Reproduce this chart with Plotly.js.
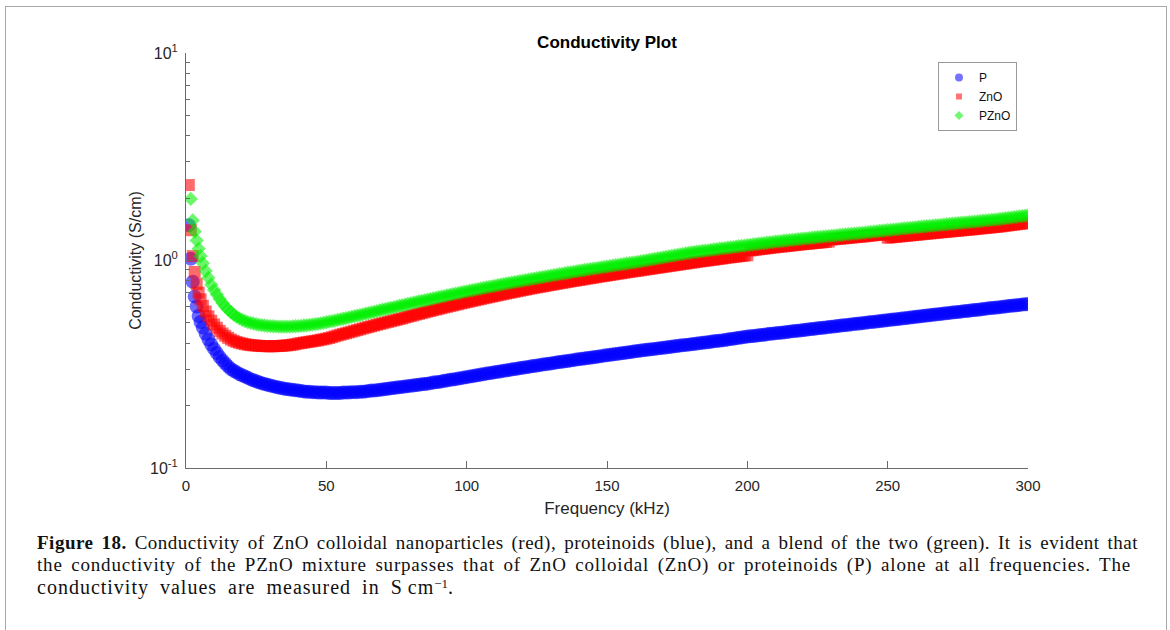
<!DOCTYPE html>
<html>
<head>
<meta charset="utf-8">
<script src="https://cdn.plot.ly/plotly-3.0.1.min.js"></script>
<style>
  html, body { margin: 0; padding: 0; background: #fff; }
  #wrap { position: relative; width: 1170px; height: 630px; overflow: hidden; }
  #frame { position: absolute; left: 5px; top: 6px; width: 1160px; height: 700px;
           border: 1px solid #a8a8a8; border-bottom: none; pointer-events: none; }
  #chart { position: absolute; left: 0; top: 0; width: 1170px; height: 630px; }
  #caption { position: absolute; left: 37px; top: 532px; width: 1125px;
             font-family: "Liberation Serif", "DejaVu Serif", serif; font-size: 19px;
             line-height: 22px; color: #111; white-space: nowrap; }
  #caption .l1 { letter-spacing: 0.5px; word-spacing: 2.7px; }
  #caption .l2 { letter-spacing: 0.8px; word-spacing: 3.1px; }
  #caption .l3 { font-size: 20px; letter-spacing: 1px; word-spacing: 5px; }
  #caption sup { font-size: 13px; line-height: 0; vertical-align: 0.45em; letter-spacing: 0; }
</style>
</head>
<body>
<div id="wrap">
  <div id="chart"></div>
  <div id="frame"></div>
  <div id="caption"><span class="l1"><b>Figure 18.</b> Conductivity of ZnO colloidal nanoparticles (red), proteinoids (blue), and a blend of the two (green). It is evident that</span><br><span class="l2">the conductivity of the PZnO mixture surpasses that of ZnO colloidal (ZnO) or proteinoids (P) alone at all frequencies. The</span><br><span class="l3">conductivity values are measured in S&#8201;cm<sup>&minus;1</sup>.</span></div>
</div>
<script>
// Frequency sweep (kHz)
const freq = [
  1, 1.7, 2.4, 3.1, 3.8, 4.5, 5.2,
  6, 7, 8, 9, 10, 11, 12, 13, 14, 15,
  16, 17, 18, 19, 20, 21, 22, 23, 24, 25,
  26, 27, 28, 29, 30, 31, 32, 33, 34, 35,
  36, 37, 38, 39, 40, 41, 42, 43, 44, 45,
  46, 47, 48, 49, 50, 51, 52, 53, 54, 55,
  56, 57, 58, 59, 60, 61, 62, 63, 64, 65,
  66, 67, 68, 69, 70, 71, 72, 73, 74, 75,
  76, 77, 78, 79, 80, 81, 82, 83, 84, 85,
  86, 87, 88, 89, 90, 91, 92, 93, 94, 95,
  96, 97, 98, 99, 100, 101, 102, 103, 104, 105,
  106, 107, 108, 109, 110, 111, 112, 113, 114, 115,
  116, 117, 118, 119, 120, 121, 122, 123, 124, 125,
  126, 127, 128, 129, 130, 131, 132, 133, 134, 135,
  136, 137, 138, 139, 140, 141, 142, 143, 144, 145,
  146, 147, 148, 149, 150, 151, 152, 153, 154, 155,
  156, 157, 158, 159, 160, 161, 162, 163, 164, 165,
  166, 167, 168, 169, 170, 171, 172, 173, 174, 175,
  176, 177, 178, 179, 180, 181, 182, 183, 184, 185,
  186, 187, 188, 189, 190, 191, 192, 193, 194, 195,
  196, 197, 198, 199, 200, 201, 202, 203, 204, 205,
  206, 207, 208, 209, 210, 211, 212, 213, 214, 215,
  216, 217, 218, 219, 220, 221, 222, 223, 224, 225,
  226, 227, 228, 229, 230, 231, 232, 233, 234, 235,
  236, 237, 238, 239, 240, 241, 242, 243, 244, 245,
  246, 247, 248, 249, 250, 251, 252, 253, 254, 255,
  256, 257, 258, 259, 260, 261, 262, 263, 264, 265,
  266, 267, 268, 269, 270, 271, 272, 273, 274, 275,
  276, 277, 278, 279, 280, 281, 282, 283, 284, 285,
  286, 287, 288, 289, 290, 291, 292, 293, 294, 295,
  296, 297, 298, 299, 300
];

// Conductivity (S/cm) of proteinoids
const condP = [
  1.48, 1.02, 0.79, 0.67, 0.60, 0.54, 0.505,
  0.475, 0.443, 0.416, 0.394, 0.375, 0.358, 0.343, 0.330, 0.319, 0.309,
  0.300, 0.294, 0.289, 0.284, 0.280, 0.276, 0.272, 0.268, 0.265, 0.262,
  0.259, 0.256, 0.254, 0.252, 0.250, 0.248, 0.246, 0.244, 0.243, 0.241,
  0.240, 0.239, 0.238, 0.237, 0.236, 0.235, 0.234, 0.233, 0.233, 0.232,
  0.232, 0.231, 0.231, 0.231, 0.231, 0.230, 0.230, 0.230, 0.230, 0.230,
  0.231, 0.231, 0.231, 0.232, 0.232, 0.232, 0.233, 0.233, 0.234, 0.235,
  0.236, 0.236, 0.237, 0.238, 0.239, 0.240, 0.241, 0.242, 0.243, 0.244,
  0.245, 0.246, 0.247, 0.248, 0.249, 0.250, 0.251, 0.252, 0.253, 0.254,
  0.255, 0.256, 0.258, 0.259, 0.260, 0.261, 0.263, 0.264, 0.266, 0.267,
  0.268, 0.270, 0.271, 0.273, 0.274, 0.276, 0.277, 0.279, 0.280, 0.282,
  0.283, 0.285, 0.286, 0.288, 0.289, 0.291, 0.292, 0.294, 0.295, 0.297,
  0.298, 0.300, 0.301, 0.303, 0.304, 0.306, 0.307, 0.309, 0.310, 0.312,
  0.313, 0.315, 0.316, 0.318, 0.319, 0.321, 0.322, 0.324, 0.325, 0.327,
  0.328, 0.330, 0.331, 0.333, 0.334, 0.336, 0.337, 0.339, 0.340, 0.342,
  0.343, 0.345, 0.346, 0.348, 0.349, 0.351, 0.352, 0.354, 0.355, 0.357,
  0.358, 0.360, 0.361, 0.363, 0.365, 0.366, 0.368, 0.369, 0.371, 0.372,
  0.374, 0.375, 0.377, 0.378, 0.380, 0.381, 0.383, 0.384, 0.386, 0.387,
  0.389, 0.390, 0.392, 0.393, 0.395, 0.396, 0.398, 0.399, 0.401, 0.402,
  0.404, 0.406, 0.408, 0.409, 0.411, 0.412, 0.414, 0.416, 0.418, 0.420,
  0.422, 0.424, 0.426, 0.428, 0.430, 0.431, 0.433, 0.434, 0.436, 0.437,
  0.439, 0.441, 0.443, 0.444, 0.446, 0.447, 0.449, 0.450, 0.452, 0.454,
  0.456, 0.457, 0.459, 0.460, 0.462, 0.464, 0.466, 0.467, 0.469, 0.471,
  0.473, 0.474, 0.476, 0.478, 0.480, 0.481, 0.483, 0.485, 0.487, 0.488,
  0.490, 0.492, 0.494, 0.495, 0.497, 0.499, 0.501, 0.503, 0.505, 0.506,
  0.508, 0.510, 0.512, 0.514, 0.516, 0.518, 0.520, 0.521, 0.523, 0.525,
  0.527, 0.529, 0.531, 0.533, 0.535, 0.537, 0.539, 0.541, 0.543, 0.545,
  0.547, 0.549, 0.551, 0.553, 0.555, 0.557, 0.559, 0.561, 0.563, 0.565,
  0.567, 0.569, 0.571, 0.573, 0.575, 0.577, 0.579, 0.581, 0.583, 0.586,
  0.588, 0.590, 0.592, 0.594, 0.596, 0.598, 0.600, 0.603, 0.605, 0.607,
  0.609, 0.611, 0.613, 0.615, 0.617
];

// Conductivity (S/cm) of ZnO colloid
const condZnO = [
  2.31, 1.40, 1.05, 0.88, 0.77, 0.70, 0.65,
  0.605, 0.568, 0.538, 0.513, 0.492, 0.474, 0.458, 0.445, 0.434, 0.424,
  0.416, 0.410, 0.405, 0.401, 0.398, 0.395, 0.393, 0.391, 0.390, 0.389,
  0.388, 0.387, 0.387, 0.386, 0.386, 0.386, 0.387, 0.387, 0.388, 0.389,
  0.390, 0.391, 0.393, 0.395, 0.398, 0.400, 0.402, 0.404, 0.406, 0.408,
  0.410, 0.412, 0.415, 0.417, 0.420, 0.423, 0.427, 0.431, 0.435, 0.439,
  0.443, 0.446, 0.450, 0.454, 0.458, 0.462, 0.466, 0.470, 0.474, 0.478,
  0.482, 0.486, 0.490, 0.494, 0.498, 0.502, 0.506, 0.510, 0.514, 0.518,
  0.522, 0.526, 0.531, 0.535, 0.540, 0.544, 0.549, 0.553, 0.558, 0.562,
  0.567, 0.571, 0.576, 0.580, 0.585, 0.589, 0.594, 0.598, 0.603, 0.607,
  0.612, 0.616, 0.621, 0.625, 0.630, 0.634, 0.639, 0.643, 0.648, 0.652,
  0.657, 0.661, 0.666, 0.670, 0.675, 0.679, 0.684, 0.688, 0.693, 0.697,
  0.702, 0.706, 0.711, 0.715, 0.720, 0.724, 0.729, 0.733, 0.738, 0.742,
  0.746, 0.750, 0.754, 0.759, 0.763, 0.767, 0.771, 0.776, 0.780, 0.784,
  0.788, 0.793, 0.797, 0.801, 0.805, 0.809, 0.813, 0.818, 0.822, 0.826,
  0.830, 0.835, 0.839, 0.843, 0.847, 0.851, 0.855, 0.860, 0.864, 0.868,
  0.872, 0.877, 0.881, 0.885, 0.889, 0.893, 0.897, 0.902, 0.906, 0.910,
  0.914, 0.919, 0.923, 0.927, 0.931, 0.936, 0.940, 0.945, 0.949, 0.953,
  0.957, 0.962, 0.966, 0.971, 0.975, 0.980, 0.984, 0.989, 0.993, 0.997,
  1.001, 1.006, 1.010, 1.014, 1.018, 1.023, 1.027, 1.032, 1.036, 1.040,
  1.044, 1.048, 1.052, 1.056, 1.060, 1.117, 1.122, 1.127, 1.132, 1.136,
  1.140, 1.145, 1.150, 1.154, 1.158, 1.163, 1.167, 1.170, 1.174, 1.179,
  1.183, 1.186, 1.190, 1.195, 1.199, 1.202, 1.206, 1.210, 1.214, 1.217,
  1.221, 1.225, 1.229, 1.233, 1.262, 1.266, 1.270, 1.274, 1.278, 1.281,
  1.285, 1.289, 1.293, 1.297, 1.301, 1.305, 1.309, 1.313, 1.318, 1.322,
  1.327, 1.331, 1.335, 1.339, 1.288, 1.292, 1.296, 1.300, 1.305, 1.309,
  1.313, 1.317, 1.321, 1.325, 1.329, 1.333, 1.338, 1.342, 1.346, 1.350,
  1.354, 1.358, 1.363, 1.367, 1.371, 1.375, 1.379, 1.383, 1.387, 1.391,
  1.396, 1.400, 1.404, 1.408, 1.412, 1.416, 1.421, 1.426, 1.431, 1.435,
  1.440, 1.444, 1.449, 1.453, 1.458, 1.464, 1.470, 1.476, 1.482, 1.488,
  1.494, 1.500, 1.506, 1.512, 1.518
];

// Conductivity (S/cm) of the proteinoid–ZnO blend
const condPZnO = [
  null, 1.98, 1.56, 1.38, 1.25, 1.14, 1.05,
  0.97, 0.89, 0.825, 0.765, 0.72, 0.685, 0.652, 0.624, 0.600, 0.580,
  0.563, 0.549, 0.536, 0.526, 0.518, 0.511, 0.505, 0.501, 0.497, 0.493,
  0.490, 0.488, 0.486, 0.484, 0.483, 0.482, 0.481, 0.480, 0.480, 0.480,
  0.480, 0.480, 0.481, 0.482, 0.483, 0.484, 0.486, 0.487, 0.489, 0.491,
  0.493, 0.495, 0.498, 0.501, 0.504, 0.507, 0.510, 0.513, 0.517, 0.520,
  0.524, 0.527, 0.531, 0.535, 0.539, 0.542, 0.546, 0.550, 0.554, 0.558,
  0.562, 0.566, 0.570, 0.575, 0.579, 0.583, 0.587, 0.591, 0.595, 0.600,
  0.604, 0.608, 0.612, 0.617, 0.621, 0.626, 0.630, 0.635, 0.639, 0.643,
  0.647, 0.652, 0.656, 0.661, 0.665, 0.670, 0.674, 0.679, 0.683, 0.688,
  0.692, 0.697, 0.701, 0.706, 0.710, 0.715, 0.719, 0.724, 0.728, 0.733,
  0.737, 0.742, 0.746, 0.751, 0.755, 0.760, 0.764, 0.769, 0.773, 0.778,
  0.782, 0.787, 0.791, 0.796, 0.800, 0.805, 0.809, 0.814, 0.818, 0.823,
  0.827, 0.832, 0.836, 0.841, 0.845, 0.850, 0.854, 0.859, 0.863, 0.868,
  0.873, 0.877, 0.882, 0.886, 0.891, 0.895, 0.900, 0.904, 0.909, 0.913,
  0.917, 0.922, 0.926, 0.931, 0.935, 0.940, 0.944, 0.949, 0.953, 0.958,
  0.962, 0.967, 0.971, 0.976, 0.980, 0.985, 0.991, 0.996, 1.002, 1.007,
  1.013, 1.018, 1.024, 1.029, 1.035, 1.041, 1.047, 1.052, 1.058, 1.064,
  1.070, 1.075, 1.081, 1.087, 1.093, 1.097, 1.102, 1.106, 1.111, 1.115,
  1.120, 1.125, 1.130, 1.134, 1.139, 1.143, 1.148, 1.152, 1.157, 1.161,
  1.166, 1.171, 1.176, 1.180, 1.185, 1.189, 1.194, 1.199, 1.204, 1.208,
  1.213, 1.218, 1.223, 1.227, 1.232, 1.236, 1.241, 1.245, 1.249, 1.253,
  1.258, 1.262, 1.266, 1.270, 1.275, 1.279, 1.283, 1.287, 1.291, 1.295,
  1.299, 1.303, 1.307, 1.311, 1.315, 1.319, 1.323, 1.327, 1.331, 1.335,
  1.339, 1.343, 1.347, 1.351, 1.355, 1.360, 1.364, 1.369, 1.373, 1.378,
  1.382, 1.387, 1.391, 1.396, 1.400, 1.405, 1.409, 1.414, 1.418, 1.423,
  1.427, 1.432, 1.436, 1.441, 1.445, 1.450, 1.454, 1.459, 1.463, 1.468,
  1.472, 1.477, 1.481, 1.486, 1.490, 1.495, 1.499, 1.504, 1.508, 1.513,
  1.517, 1.522, 1.526, 1.531, 1.535, 1.540, 1.545, 1.550, 1.555, 1.560,
  1.565, 1.570, 1.575, 1.580, 1.585, 1.592, 1.598, 1.605, 1.611, 1.618,
  1.624, 1.631, 1.637, 1.644, 1.650
];

const seriesNames = ['P', 'ZnO', 'PZnO'];
const xTickVals = [0, 50, 100, 150, 200, 250, 300];
const yTickVals = [0.1, 1, 10];
const yTickText = ['10<sup>-1</sup>', '10<sup>0</sup>', '10<sup>1</sup>'];

// minor ticks at 2..9 within each decade
const yMinor = [];
[0.1, 1].forEach(d => { for (let m = 2; m <= 9; m++) yMinor.push(+(m * d).toFixed(3)); });

const styles = [
  { color: 'rgb(0,0,255)', symbol: 'circle', size: 14, legendSize: 8 },
  { color: 'rgb(255,0,0)', symbol: 'square', size: 12, legendSize: 6 },
  { color: 'rgb(0,240,0)', symbol: 'diamond', size: 11, legendSize: 7 }
];
const values = [condP, condZnO, condPZnO];

const traces = [];
values.forEach((v, i) => {
  traces.push({
    x: freq, y: v, type: 'scatter', mode: 'markers', name: seriesNames[i],
    showlegend: false, legendgroup: seriesNames[i],
    marker: { color: styles[i].color, symbol: styles[i].symbol, size: styles[i].size,
              opacity: 0.58, line: { width: 0 } },
    hoverinfo: 'x+y+name'
  });
});
// legend keys with small symbols
values.forEach((v, i) => {
  traces.push({
    x: [null], y: [null], type: 'scatter', mode: 'markers', name: seriesNames[i],
    showlegend: true, legendgroup: seriesNames[i],
    marker: { color: styles[i].color, symbol: styles[i].symbol, size: styles[i].legendSize,
              opacity: 0.55, line: { width: 0 } }
  });
});

const axisColor = '#6a6a6a';
const layout = {
  width: 1170, height: 630,
  margin: { l: 186, r: 142, t: 53, b: 162 },
  paper_bgcolor: 'rgba(0,0,0,0)', plot_bgcolor: '#fff',
  font: { family: 'Liberation Sans, Arial, sans-serif', color: '#262626' },
  title: { text: '<b>Conductivity Plot</b>', font: { size: 17, color: '#000' },
           x: 0.5, xref: 'paper', xanchor: 'center', y: 1 - 42 / 630, yref: 'container', yanchor: 'middle' },
  xaxis: {
    range: [0, 300], tickmode: 'array', tickvals: xTickVals,
    ticks: 'inside', ticklen: 7, tickwidth: 1, tickcolor: axisColor, ticklabelstandoff: 4,
    showline: true, linecolor: axisColor, linewidth: 1, mirror: false,
    showgrid: false, zeroline: false, tickfont: { size: 15, color: '#262626' },
    title: { text: 'Frequency (kHz)', font: { size: 17, color: '#262626' }, standoff: 9 }
  },
  yaxis: {
    type: 'log', range: [-1, 1], tickmode: 'array', tickvals: yTickVals, ticktext: yTickText,
    ticks: 'inside', ticklen: 7, tickwidth: 1, tickcolor: axisColor, ticklabelstandoff: 4,
    showline: true, linecolor: axisColor, linewidth: 1, mirror: false,
    showgrid: false, zeroline: false, tickfont: { size: 16, color: '#262626' },
    minor: { tickmode: 'array', tickvals: yMinor, ticks: 'inside', ticklen: 4, tickcolor: axisColor, showgrid: false },
    title: { text: 'Conductivity (S/cm)', font: { size: 16, color: '#262626' }, standoff: 4 }
  },
  showlegend: true,
  legend: {
    x: (938 - 186) / 842, y: (468 - 62) / 415, xanchor: 'left', yanchor: 'top',
    bgcolor: '#fff', bordercolor: '#999', borderwidth: 1,
    font: { size: 12, color: '#111' }, tracegroupgap: 0, itemwidth: 30
  }
};

Plotly.newPlot('chart', traces, layout, { displayModeBar: false, staticPlot: true });
</script>
</body>
</html>
